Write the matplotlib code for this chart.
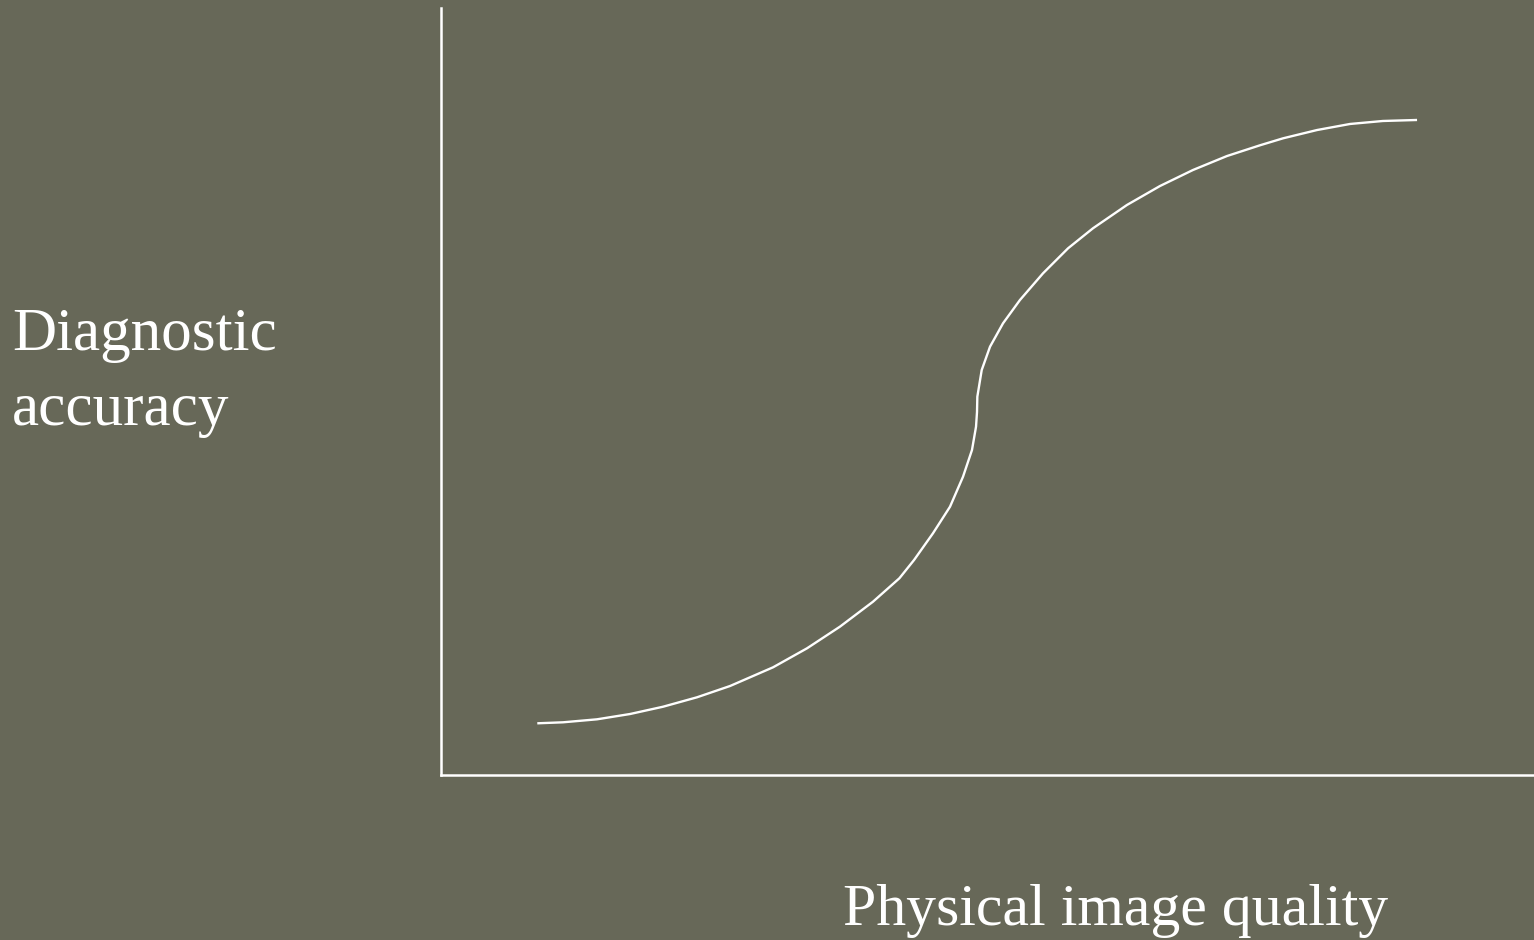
import matplotlib.pyplot as plt

# S-shaped relation (arbitrary 0-10 units)
image_quality = [0.881, 1.116, 1.427, 1.729, 2.031, 2.342, 2.644, 3.038, 3.349,
                 3.650, 3.952, 4.194, 4.328, 4.501, 4.657, 4.776, 4.858, 4.895,
                 4.904, 4.907, 4.947, 5.023, 5.142, 5.297, 5.508, 5.737, 5.965,
                 6.276, 6.578, 6.880, 7.191, 7.493, 7.704, 8.015, 8.317, 8.618,
                 8.930]
diagnostic_accuracy = [0.674, 0.687, 0.726, 0.795, 0.890, 1.013, 1.160, 1.404,
                       1.652, 1.934, 2.259, 2.565, 2.803, 3.151, 3.498, 3.889,
                       4.237, 4.541, 4.733, 4.932, 5.280, 5.584, 5.889, 6.193,
                       6.541, 6.867, 7.128, 7.432, 7.679, 7.888, 8.070, 8.210,
                       8.301, 8.409, 8.488, 8.527, 8.540]

bg = '#676858'
plt.rcParams['font.family'] = ['Liberation Serif', 'DejaVu Serif']

fig = plt.figure(figsize=(15.34, 9.40), dpi=100, facecolor=bg)
ax = fig.add_axes([441 / 1534, 165 / 940, 1093 / 1534, 767 / 940], facecolor=bg)

ax.plot(image_quality, diagnostic_accuracy, color='white', linewidth=1.7,
        solid_capstyle='butt', solid_joinstyle='round')

ax.set_xlim(0, 10)
ax.set_ylim(0, 10)
ax.set_xticks([])
ax.set_yticks([])
for side in ['top', 'right']:
    ax.spines[side].set_visible(False)
for side in ['left', 'bottom']:
    ax.spines[side].set_color('white')
    ax.spines[side].set_linewidth(1.8)

fig.text(12 / 1534, 1 - 350 / 940, 'Diagnostic', color='white', fontsize=44,
         ha='left', va='baseline')
fig.text(12 / 1534, 1 - 425 / 940, 'accuracy', color='white', fontsize=44,
         ha='left', va='baseline')
fig.text(1116 / 1534, 1 - 925 / 940, 'Physical image quality', color='white',
         fontsize=43, ha='center', va='baseline')

fig.savefig('out.png', dpi=100, facecolor=bg)
